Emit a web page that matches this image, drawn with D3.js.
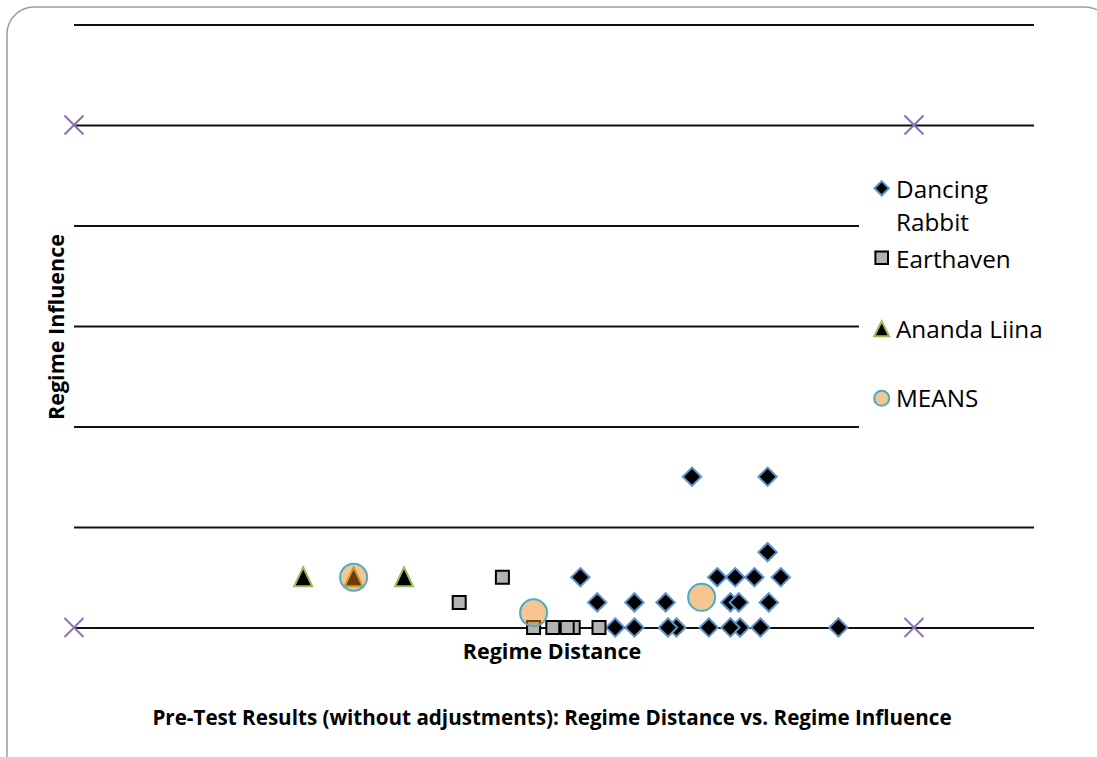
<!DOCTYPE html>
<html>
<head>
<meta charset="utf-8">
<script src="https://cdn.jsdelivr.net/npm/d3@7"></script>
<style>
  body { margin: 0; background: #fff; }
  svg { display: block; font-family: "Open Sans", "DejaVu Sans", sans-serif; }
</style>
</head>
<body>
<svg id="chart" width="1097" height="757"></svg>
<script>
// ---- data: regime distance (x) vs regime influence (y) ----
const seriesNames = ["Dancing Rabbit", "Earthaven", "Ananda Liina", "MEANS"];

const dancingRabbitX = [5.15, 5.78, 5.78, 4.22, 5.36, 5.51, 5.67, 5.89,
                        4.36, 4.67, 4.93, 5.47, 5.54, 5.79,
                        4.51, 4.67, 5.02, 4.95, 5.29, 5.55, 5.47, 5.72, 6.37];
const dancingRabbitY = [1.5, 1.5, 0.75, 0.5, 0.5, 0.5, 0.5, 0.5,
                        0.25, 0.25, 0.25, 0.25, 0.25, 0.25,
                        0, 0, 0, 0, 0, 0, 0, 0, 0];

const earthavenX = [3.21, 3.57, 3.83, 3.99, 4.16, 4.11, 4.375];
const earthavenY = [0.25, 0.5, 0, 0, 0, 0, 0];

const anandaX = [1.91, 2.33, 2.75];
const anandaY = [0.5, 0.5, 0.5];

const meansX = [2.33, 3.83, 5.23];
const meansY = [0.5, 0.147, 0.30];

// corner markers framing the scale
const frameX = [0, 7, 0, 7];
const frameY = [5, 5, 0, 0];

const xDomain = [0, 8];
const yTicks = [0, 1, 2, 3, 4, 5, 6];

const axisTitleX = "Regime Distance";
const axisTitleY = "Regime Influence";
const chartTitle = "Pre-Test Results (without adjustments): Regime Distance vs. Regime Influence";

// ---- layout ----
const svg = d3.select("#chart");
const plot = { left: 74, right: 1034, top: 24.5, bottom: 627.5 };

const x = d3.scaleLinear().domain(xDomain).range([plot.left, plot.right]);
const y = d3.scaleLinear().domain([0, d3.max(yTicks)]).range([plot.bottom, plot.top]);

const zip = (xs, ys) => xs.map((v, i) => ({ x: v, y: ys[i] }));

// outer frame
svg.append("rect")
  .attr("x", 7).attr("y", 7)
  .attr("width", 1105).attr("height", 775)
  .attr("rx", 27).attr("ry", 27)
  .attr("fill", "none")
  .attr("stroke", "#9c9c9c")
  .attr("stroke-width", 1.5);

// horizontal gridlines
const grid = svg.append("g")
  .attr("transform", `translate(${plot.left},0)`)
  .call(d3.axisLeft(y).tickValues(yTicks).tickSize(-(plot.right - plot.left)).tickFormat(""));
grid.select(".domain").remove();
grid.selectAll(".tick line").attr("stroke", "#111").attr("stroke-width", 1.8);

// marker shapes
const diamondPath = h => `M0,${-h}L${h},0L0,${h}L${-h},0Z`;
const squarePath = s => `M${-s},${-s}H${s}V${s}H${-s}Z`;
const trianglePath = (w, up, down) => `M0,${-up}L${w},${down}L${-w},${down}Z`;
const crossPath = h => `M${-h},${-h}L${h},${h}M${-h},${h}L${h},${-h}`;

const styles = {
  diamond: { fill: "#000", stroke: "#5b93cb", width: 2 },
  square: { fill: "#b3b3b3", stroke: "#000", width: 2 },
  triangle: { fill: "#000", stroke: "#9bbb59", width: 2 },
  mean: { fill: "rgb(235,128,12)", opacity: 0.46, stroke: "#4bacc6", width: 2 }
};

// Dancing Rabbit
svg.append("g").selectAll("path")
  .data(zip(dancingRabbitX, dancingRabbitY))
  .join("path")
  .attr("transform", d => `translate(${x(d.x)},${y(d.y)})`)
  .attr("d", diamondPath(9.2))
  .attr("fill", styles.diamond.fill)
  .attr("stroke", styles.diamond.stroke)
  .attr("stroke-width", styles.diamond.width);

// Earthaven
svg.append("g").selectAll("path")
  .data(zip(earthavenX, earthavenY))
  .join("path")
  .attr("transform", d => `translate(${x(d.x)},${y(d.y)})`)
  .attr("d", squarePath(6.5))
  .attr("fill", styles.square.fill)
  .attr("stroke", styles.square.stroke)
  .attr("stroke-width", styles.square.width);

// Ananda Liina
svg.append("g").selectAll("path")
  .data(zip(anandaX, anandaY))
  .join("path")
  .attr("transform", d => `translate(${x(d.x)},${y(d.y)})`)
  .attr("d", trianglePath(9, 10, 9))
  .attr("fill", styles.triangle.fill)
  .attr("stroke", styles.triangle.stroke)
  .attr("stroke-width", styles.triangle.width);

// Means (translucent fill)
svg.append("g").selectAll("circle")
  .data(zip(meansX, meansY))
  .join("circle")
  .attr("cx", d => x(d.x))
  .attr("cy", d => y(d.y))
  .attr("r", 13.5)
  .attr("fill", styles.mean.fill)
  .attr("fill-opacity", styles.mean.opacity)
  .attr("stroke", styles.mean.stroke)
  .attr("stroke-width", styles.mean.width);

// corner markers
svg.append("g").selectAll("path")
  .data(zip(frameX, frameY))
  .join("path")
  .attr("transform", d => `translate(${x(d.x)},${y(d.y)})`)
  .attr("d", crossPath(9.5))
  .attr("fill", "none")
  .attr("stroke", "#8c72b4")
  .attr("stroke-width", 2);

// legend
const legend = svg.append("g");
legend.append("rect")
  .attr("x", 859).attr("y", 150)
  .attr("width", 180).attr("height", 300)
  .attr("fill", "#fff");

const legendItems = [
  { name: seriesNames[0], lines: ["Dancing", "Rabbit"], my: 188.3, ty: 198.3, kind: "diamond" },
  { name: seriesNames[1], lines: [seriesNames[1]], my: 257.7, ty: 268.3, kind: "square" },
  { name: seriesNames[2], lines: [seriesNames[2]], my: 329.3, ty: 338.3, kind: "triangle" },
  { name: seriesNames[3], lines: [seriesNames[3]], my: 398.3, ty: 406.7, kind: "mean" }
];
const mx = 881.7;
legendItems.forEach(item => {
  const g = legend.append("g");
  if (item.kind === "mean") {
    g.append("circle").attr("cx", mx).attr("cy", item.my).attr("r", 7.5)
      .attr("fill", styles.mean.fill).attr("fill-opacity", styles.mean.opacity)
      .attr("stroke", styles.mean.stroke).attr("stroke-width", styles.mean.width);
  } else {
    const d = item.kind === "diamond" ? diamondPath(7.2)
            : item.kind === "square" ? squarePath(6.3)
            : trianglePath(7.5, 8, 7);
    const s = styles[item.kind];
    g.append("path").attr("transform", `translate(${mx},${item.my})`).attr("d", d)
      .attr("fill", s.fill).attr("stroke", s.stroke).attr("stroke-width", s.width);
  }
  const t = g.append("text").attr("x", 896).attr("y", item.ty)
    .attr("font-size", 24.3).attr("fill", "#000");
  item.lines.forEach((ln, i) => {
    t.append("tspan").attr("x", 896).attr("dy", i === 0 ? 0 : 32.4).text(ln);
  });
});

// axis titles
svg.append("text")
  .attr("x", 552).attr("y", 659)
  .attr("text-anchor", "middle")
  .attr("font-size", 21.5).attr("font-weight", "bold")
  .text(axisTitleX);

svg.append("text")
  .attr("transform", "translate(64,327) rotate(-90)")
  .attr("text-anchor", "middle")
  .attr("font-size", 21.5).attr("font-weight", "bold")
  .text(axisTitleY);

// chart title
svg.append("text")
  .attr("x", 552).attr("y", 725)
  .attr("text-anchor", "middle")
  .attr("font-size", 20.6).attr("font-weight", "bold")
  .text(chartTitle);
</script>
</body>
</html>
